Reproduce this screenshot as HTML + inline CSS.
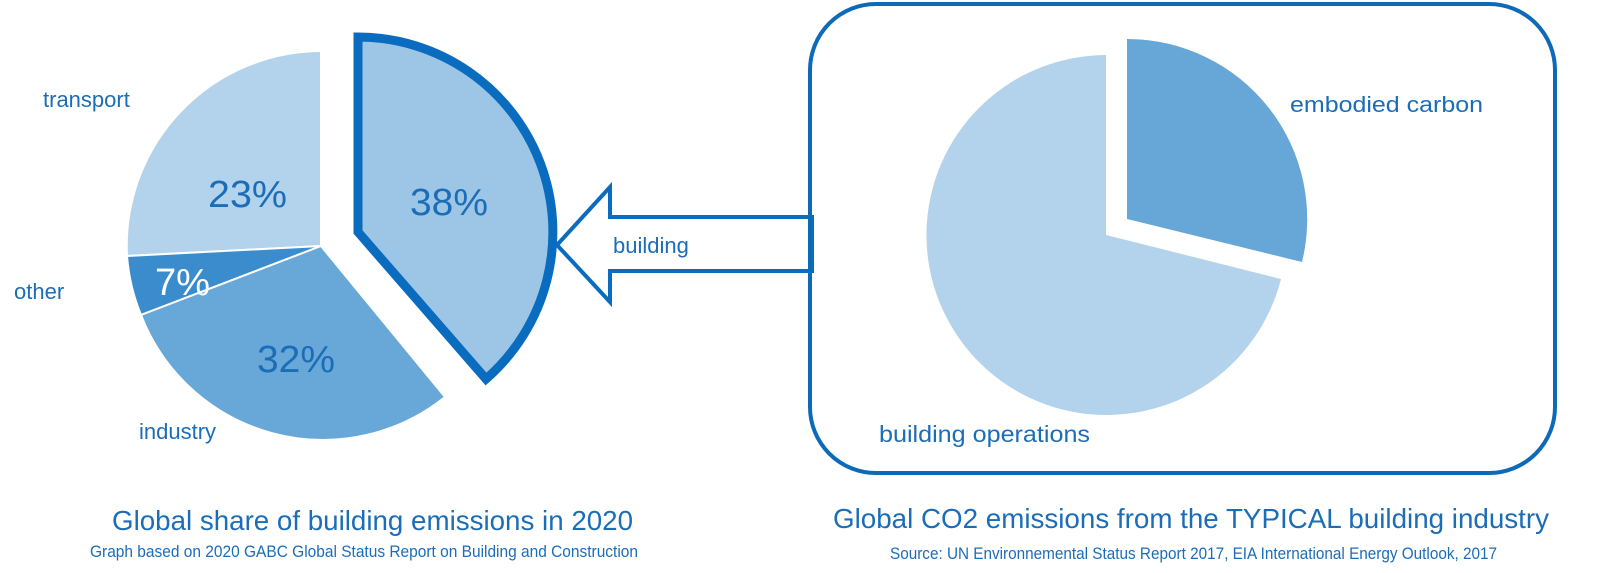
<!DOCTYPE html>
<html><head><meta charset="utf-8"><style>
html,body{margin:0;padding:0;background:#fff;}
svg{display:block;}
text{font-family:"Liberation Sans",sans-serif;fill:#1b6db8;}
</style></head><body>
<svg width="1600" height="573" viewBox="0 0 1600 573" xmlns="http://www.w3.org/2000/svg">
<!-- left pie -->
<path d="M321,246 L321,51 A195,195 0 0 0 127,256 Z" fill="#b3d3ec" stroke="#fff" stroke-width="2"/>
<path d="M321,246 L127,256 A195,195 0 0 0 141,315 Z" fill="#3a8ccc" stroke="#fff" stroke-width="2"/>
<path d="M321,246 L141,315 A195,195 0 0 0 445,397 Z" fill="#68a8d8" stroke="#fff" stroke-width="2"/>
<path d="M358,232 L358,37 A195,195 0 0 1 486,379 Z" fill="#9dc6e6" stroke="#0a6cbf" stroke-width="9" stroke-linejoin="miter"/>
<text x="208" y="207" font-size="38" textLength="79" lengthAdjust="spacingAndGlyphs">23%</text>
<text x="410" y="215" font-size="38" textLength="78" lengthAdjust="spacingAndGlyphs">38%</text>
<text x="155" y="295" font-size="38" textLength="55" lengthAdjust="spacingAndGlyphs" style="fill:#fff">7%</text>
<text x="257" y="372" font-size="38" textLength="78" lengthAdjust="spacingAndGlyphs">32%</text>
<text x="43" y="107" font-size="22">transport</text>
<text x="14" y="299" font-size="22">other</text>
<text x="139" y="439" font-size="22">industry</text>
<!-- arrow -->
<polygon points="557,245 610,187 610,217 812,217 812,271 610,271 610,302" fill="#fff" stroke="#0a6cbf" stroke-width="4" stroke-linejoin="miter"/>
<text x="613" y="253" font-size="22">building</text>
<!-- box -->
<rect x="810" y="4" width="745" height="469" rx="66" ry="66" fill="none" stroke="#0d6ab8" stroke-width="4"/>
<!-- right pie -->
<path d="M1106,235 L1281,279 A180,180 0 1 1 1106,55 Z" fill="#b3d3ec"/>
<path d="M1127,219 L1127,39 A180,180 0 0 1 1302,262 Z" fill="#67a7d8"/>
<text x="1290" y="112" font-size="22" textLength="193" lengthAdjust="spacingAndGlyphs">embodied carbon</text>
<text x="879" y="442" font-size="23" textLength="211" lengthAdjust="spacingAndGlyphs">building operations</text>
<!-- captions -->
<text x="112" y="530" font-size="28" textLength="521" lengthAdjust="spacingAndGlyphs">Global share of building emissions in 2020</text>
<text x="90" y="557" font-size="17" textLength="548" lengthAdjust="spacingAndGlyphs">Graph based on 2020 GABC Global Status Report on Building and Construction</text>
<text x="833" y="528" font-size="28" textLength="716" lengthAdjust="spacingAndGlyphs">Global CO2 emissions from the TYPICAL building industry</text>
<text x="890" y="559" font-size="17" textLength="607" lengthAdjust="spacingAndGlyphs">Source: UN Environnemental Status Report 2017, EIA International Energy Outlook, 2017</text>
</svg>
</body></html>
